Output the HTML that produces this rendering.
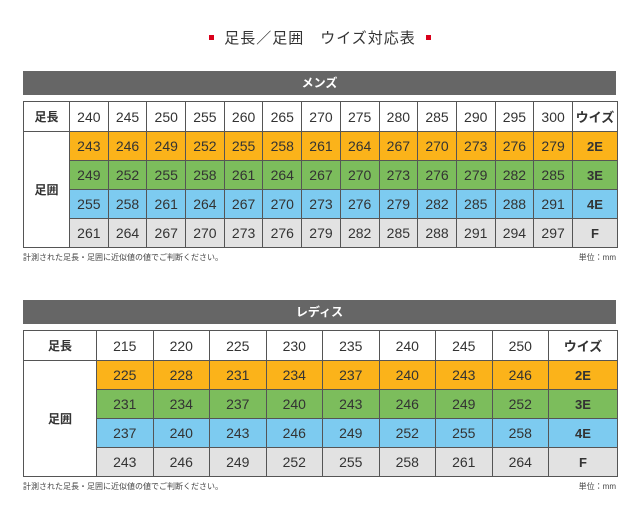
<!DOCTYPE html>
<html><head><meta charset="utf-8"><style>
body{margin:0;width:640px;height:522px;background:#fff;font-family:"Liberation Sans","Noto Sans CJK JP",sans-serif;position:relative;color:#333}
.title{position:absolute;top:27px;left:0;width:640px;text-align:center;font-size:15px;color:#333;letter-spacing:1px}
.title i{display:inline-block;width:5px;height:5px;background:#d9001b;vertical-align:middle;margin:0 10px 3px}
.bar{position:absolute;left:23px;width:593px;height:24px;background:#666;color:#fff;font-weight:bold;font-size:12px;text-align:center;line-height:24px}
table{position:absolute;left:23px;border-collapse:collapse;table-layout:fixed;width:594px}
td{border:1px solid #555;text-align:center;padding:0;font-size:14px;color:#333;height:28px}
tr.h td{height:29px;background:#fff}
td.l{font-weight:bold;font-size:12px;background:#fff}
td.w{font-weight:bold;font-size:13px}
tr.o td{background:#fbb31a}tr.g td{background:#7cbd5c}tr.b td{background:#7dcbf0}tr.y td{background:#e2e2e2}
tr td.l{background:#fff}
.note{position:absolute;left:23px;font-size:8px;color:#444}
.unit{position:absolute;right:24px;font-size:8px;color:#444}
</style></head><body>
<div class="title"><i></i>足長／足囲　ウイズ対応表<i></i></div>
<div class="bar" style="top:71px">メンズ</div>
<table style="top:101px">
<colgroup><col style="width:46px"><col span="13" style="width:38.7px"><col style="width:45px"></colgroup>
<tr class="h"><td class="l">足長</td><td>240</td><td>245</td><td>250</td><td>255</td><td>260</td><td>265</td><td>270</td><td>275</td><td>280</td><td>285</td><td>290</td><td>295</td><td>300</td><td class="w">ウイズ</td></tr>
<tr class="o"><td class="l" rowspan="4">足囲</td><td>243</td><td>246</td><td>249</td><td>252</td><td>255</td><td>258</td><td>261</td><td>264</td><td>267</td><td>270</td><td>273</td><td>276</td><td>279</td><td class="w">2E</td></tr>
<tr class="g"><td>249</td><td>252</td><td>255</td><td>258</td><td>261</td><td>264</td><td>267</td><td>270</td><td>273</td><td>276</td><td>279</td><td>282</td><td>285</td><td class="w">3E</td></tr>
<tr class="b"><td>255</td><td>258</td><td>261</td><td>264</td><td>267</td><td>270</td><td>273</td><td>276</td><td>279</td><td>282</td><td>285</td><td>288</td><td>291</td><td class="w">4E</td></tr>
<tr class="y"><td>261</td><td>264</td><td>267</td><td>270</td><td>273</td><td>276</td><td>279</td><td>282</td><td>285</td><td>288</td><td>291</td><td>294</td><td>297</td><td class="w">F</td></tr>
</table>
<div class="note" style="top:252px">計測された足長・足囲に近似値の値でご判断ください。</div>
<div class="unit" style="top:252px">単位：mm</div>
<div class="bar" style="top:300px">レディス</div>
<table style="top:330px">
<colgroup><col style="width:73px"><col span="8" style="width:56.5px"><col style="width:69px"></colgroup>
<tr class="h"><td class="l">足長</td><td>215</td><td>220</td><td>225</td><td>230</td><td>235</td><td>240</td><td>245</td><td>250</td><td class="w">ウイズ</td></tr>
<tr class="o"><td class="l" rowspan="4">足囲</td><td>225</td><td>228</td><td>231</td><td>234</td><td>237</td><td>240</td><td>243</td><td>246</td><td class="w">2E</td></tr>
<tr class="g"><td>231</td><td>234</td><td>237</td><td>240</td><td>243</td><td>246</td><td>249</td><td>252</td><td class="w">3E</td></tr>
<tr class="b"><td>237</td><td>240</td><td>243</td><td>246</td><td>249</td><td>252</td><td>255</td><td>258</td><td class="w">4E</td></tr>
<tr class="y"><td>243</td><td>246</td><td>249</td><td>252</td><td>255</td><td>258</td><td>261</td><td>264</td><td class="w">F</td></tr>
</table>
<div class="note" style="top:481px">計測された足長・足囲に近似値の値でご判断ください。</div>
<div class="unit" style="top:481px">単位：mm</div>
</body></html>
